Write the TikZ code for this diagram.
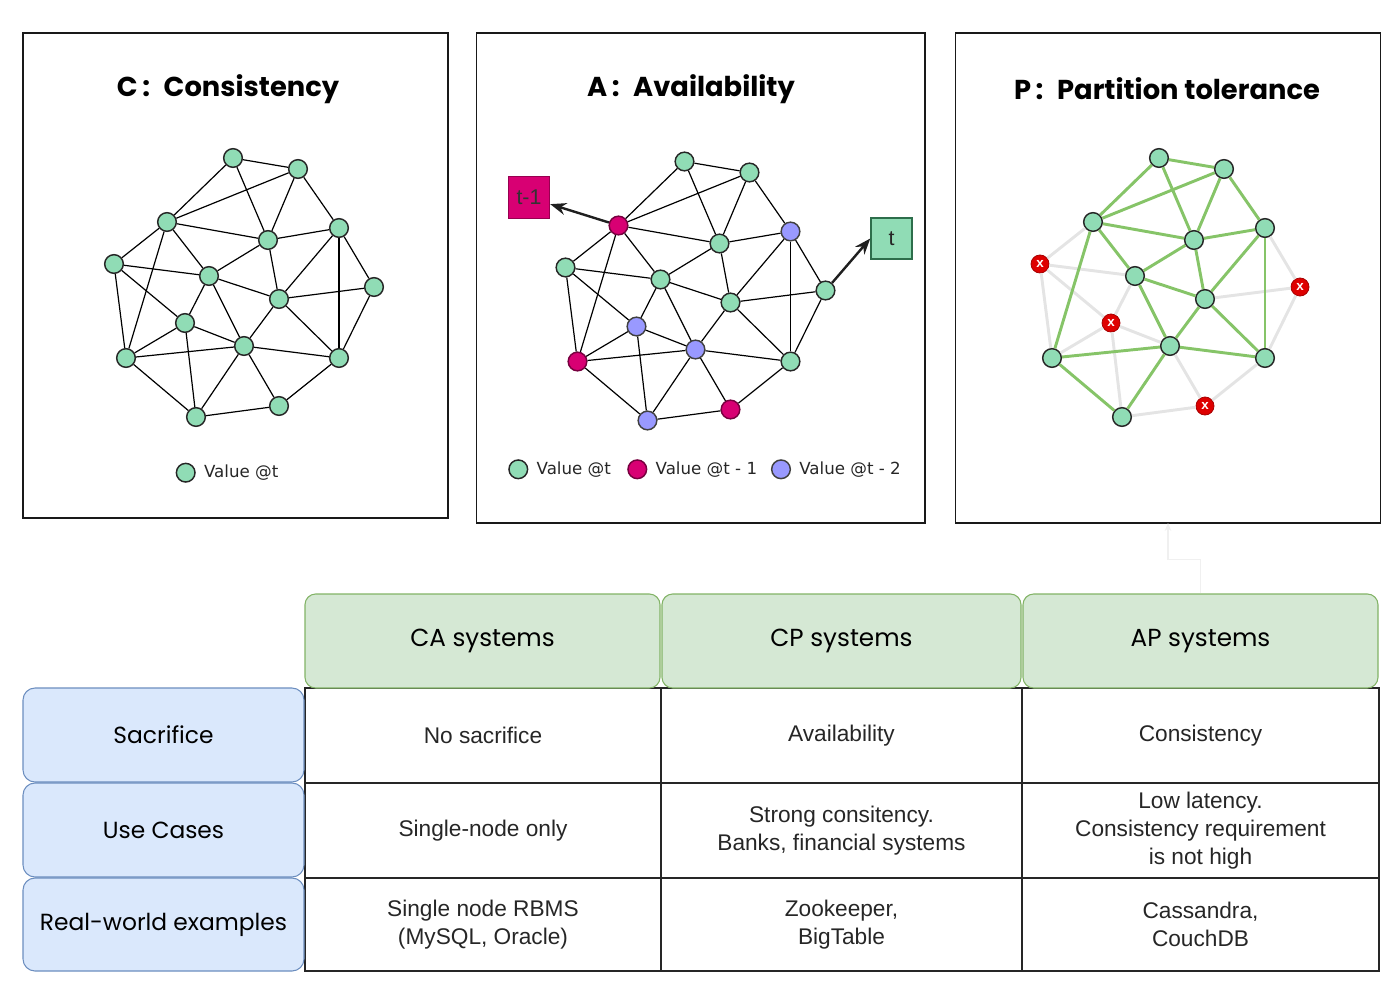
\documentclass[tikz,border=0pt]{standalone}
\usepackage{fontspec}
\setmainfont{Liberation Sans}
\newfontfamily\comicfont{Poppins}
\newfontfamily\legendfont{DejaVu Sans}
\usetikzlibrary{arrows.meta,positioning}

\definecolor{valnow}{RGB}{144,220,181}
\definecolor{valold}{RGB}{216,0,115}
\definecolor{valolder}{RGB}{153,153,255}
\definecolor{hdrfill}{RGB}{213,232,212}
\definecolor{hdrline}{RGB}{130,179,102}
\definecolor{rowfill}{RGB}{218,232,252}
\definecolor{rowline}{RGB}{108,142,191}
\definecolor{okgreen}{RGB}{134,196,104}
\definecolor{cutgray}{RGB}{228,228,228}
\definecolor{downred}{RGB}{222,0,0}
\definecolor{tline}{RGB}{45,110,75}

% the same network in all three panels
\newcommand\netpos{1/233/158,2/298/169,3/167/222,4/268/240,5/339/228,6/114/264,7/209/276,8/279/299,9/374/287,10/185/323,11/244/346,12/126/358,13/339/358,14/196/417,15/279/406}
\newcommand\netedges{1/2,1/3,1/4,2/3,2/4,2/5,3/4,3/6,3/7,3/12,4/5,4/7,4/8,5/8,5/9,5/13,6/7,6/10,6/12,7/8,7/10,7/11,8/9,8/11,8/13,9/13,10/11,10/12,10/14,11/12,11/13,11/14,11/15,12/14,13/15,14/15}

\begin{document}
\begin{tikzpicture}[x=0.75pt,y=-0.75pt,
    panel/.style={draw=black!90,line width=0.9pt},
    title/.style={font=\comicfont\bfseries\fontsize{20.5}{24}\selectfont},
    vert/.style={circle,draw=black!85,line width=1.1pt,minimum size=14pt,inner sep=0pt},
    vnow/.style={vert,fill=valnow},
    vold/.style={vert,fill=valold,draw=valold!55!black},
    volder/.style={vert,fill=valolder,draw=black!75},
    vdown/.style={circle,fill=downred,draw=downred!75!black,line width=0.6pt,minimum size=13.5pt,inner sep=0pt,text=white,font=\bfseries\fontsize{10}{10}\selectfont},
    link/.style={black,line width=0.9pt},
    linkok/.style={draw=okgreen,line width=2.2pt},
    linkcut/.style={draw=cutgray,line width=2.2pt},
    hop/.style={-{Stealth[length=12pt,width=9pt]},line width=1.8pt,black!88},
    legend/.style={font=\legendfont\fontsize{12.5}{15}\selectfont,inner sep=0pt,text=black!85},
    hdr/.style={draw=hdrline,fill=hdrfill,line width=0.8pt,rounded corners=8pt,minimum height=70.5pt,font=\comicfont\fontsize{18.5}{22}\selectfont},
    rowhd/.style={draw=rowline,fill=rowfill,line width=0.8pt,rounded corners=9pt,minimum width=210.75pt,minimum height=70.5pt,font=\comicfont\fontsize{17.5}{20}\selectfont},
    cell/.style={draw=black!85,line width=1pt,align=center,font=\fontsize{17}{21}\selectfont,text=black!85}]
  \useasboundingbox (0,0) rectangle (1400,1003);

  % panels
  \draw[panel] (23,33) rectangle (448,518);
  \draw[panel] (476.5,33) rectangle (925,523);
  \draw[panel] (955.5,33) rectangle (1380.5,523);
  \coordinate (pfoot) at (1168,523);
  \node[title] (ttlC) at (228,89) {C\,:\enspace Consistency};
  \node[title] (ttlA) at (691,89) {A\,:\enspace Availability};
  \node[title] (ttlP) at (1167,89) {P\,:\enspace Partition tolerance};

  % C
  \foreach \i/\x/\y in \netpos
    \node[vnow] (c\i) at (\x,\y) {};
  \foreach \u/\v in \netedges
    \draw[link] (c\u) -- (c\v);
  \node[vnow] (lgC) at (185.7,472.7) {};
  \node[legend,right=6pt of lgC] (lgCt) {Value @t};

  % A
  \foreach \i in {1,2,4,6,7,8,9,13}
    \node[vnow,shift={(451.5,3.5)}] (a\i) at (c\i) {};
  \foreach \i in {3,12,15}
    \node[vold,shift={(451.5,3.5)}] (a\i) at (c\i) {};
  \foreach \i in {5,10,11,14}
    \node[volder,shift={(451.5,3.5)}] (a\i) at (c\i) {};
  \foreach \u/\v in \netedges
    \draw[link] (a\u) -- (a\v);
  \node[draw=valold!70!black,fill=valold,line width=0.8pt,minimum size=31pt,inner sep=0pt,text=black!80,font=\fontsize{16}{16}\selectfont] (tprev) at (529,197.5) {t-1};
  \node[draw=tline,fill=valnow,line width=1.1pt,minimum size=30.75pt,inner sep=0pt,text=black!85,font=\fontsize{16}{16}\selectfont] (tnow) at (891.5,238.5) {t};
  \draw[hop] (a3) -- (tprev);
  \draw[hop] (a9) -- (tnow.west);
  \node[vnow] (lgA1) at (518.3,469.3) {};
  \node[legend,right=6pt of lgA1] (lgA1t) {Value @t};
  \node[vold] (lgA2) at (637.3,469.3) {};
  \node[legend,right=6pt of lgA2] (lgA2t) {Value @t - 1};
  \node[volder] (lgA3) at (781,469.3) {};
  \node[legend,right=6pt of lgA3] (lgA3t) {Value @t - 2};

  % P
  \foreach \i in {1,2,3,4,5,7,8,11,12,13,14}
    \node[vnow,shift={(926,0)}] (p\i) at (c\i) {};
  \foreach \i in {6,9,10,15}
    \node[vdown,shift={(926,0)}] (p\i) at (c\i) {x};
  \foreach \u/\v in {3/6,5/9,6/7,6/10,6/12,7/10,8/9,9/13,10/11,10/12,10/14,11/15,13/15,14/15}
    \draw[linkcut] (p\u) -- (p\v);
  \foreach \u/\v in {1/2,1/3,1/4,2/3,2/4,2/5,3/4,3/7,3/12,4/5,4/7,4/8,5/8,5/13,7/8,7/11,8/11,8/13,11/12,11/13,11/14,12/14}
    \draw[linkok] (p\u) -- (p\v);

  % table
  \node[cell,minimum width=267pt,minimum height=71.25pt] (ca1) at (483,735.5) {No sacrifice};
  \node[cell,minimum width=267pt,minimum height=71.25pt] (ca2) at (483,830.5) {Single-node only};
  \node[cell,minimum width=267pt,minimum height=69.75pt] (ca3) at (483,924.5) {Single node RBMS\\(MySQL, Oracle)};
  \node[cell,minimum width=270.75pt,minimum height=71.25pt] (cp1) at (841.5,735.5) {Availability};
  \node[cell,minimum width=270.75pt,minimum height=71.25pt] (cp2) at (841.5,830.5) {Strong consitency.\\Banks, financial systems};
  \node[cell,minimum width=270.75pt,minimum height=69.75pt] (cp3) at (841.5,924.5) {Zookeeper,\\BigTable};
  \node[cell,minimum width=267.75pt,minimum height=71.25pt] (ap1) at (1200.5,735.5) {Consistency};
  \node[cell,minimum width=267.75pt,minimum height=71.25pt] (ap2) at (1200.5,830.5) {Low latency.\\Consistency requirement\\is not high};
  \node[cell,minimum width=267.75pt,minimum height=69.75pt] (ap3) at (1200.5,924.5) {Cassandra,\\CouchDB};

  \node[hdr,minimum width=266.25pt] (hCA) at (482.5,641) {CA systems};
  \node[hdr,minimum width=269.25pt] (hCP) at (841.5,641) {CP systems};
  \node[hdr,minimum width=266.25pt] (hAP) at (1200.5,641) {AP systems};

  \node[rowhd] (rSac) at (163.5,735) {Sacrifice};
  \node[rowhd] (rUse) at (163.5,830) {Use Cases};
  \node[rowhd,minimum height=69.75pt] (rReal) at (163.5,924.5) {Real-world examples};

  \draw[-{Stealth[length=6pt,width=5pt]},gray!12,line width=0.8pt] (hAP.north) -- ++(0,-34) -| (pfoot);
\end{tikzpicture}
\end{document}
